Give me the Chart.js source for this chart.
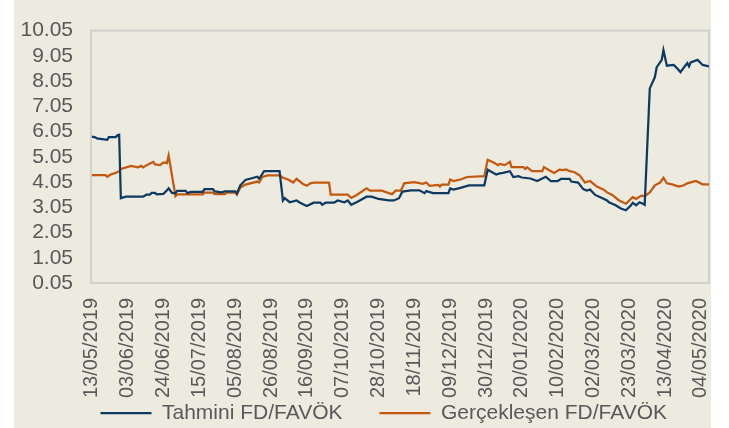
<!DOCTYPE html>
<html>
<head>
<meta charset="utf-8">
<script src="https://cdn.jsdelivr.net/npm/chart.js@4.4.1/dist/chart.umd.min.js"></script>
<style>
  html, body { margin: 0; padding: 0; background: #fff; }
  #wrap { position: absolute; left: 14px; top: 0; width: 697px; height: 428px; background: #EDEAE0; overflow: hidden; }
  canvas { display: block; }
</style>
</head>
<body>
<div id="wrap"><canvas id="fdChart" width="697" height="469"></canvas></div>
<script>
// day offsets from 13/05/2019
const tahminiDays = [0,2,3,9,10,14,15,16,17,20,30,32,34,35,37,38,42,44,45,47,49,50,55,56,58,65,66,71,72,76,78,84,85,87,90,97,98,101,110,112,113,116,120,122,126,130,134,135,137,142,144,148,150,152,156,161,164,168,174,177,180,182,187,192,195,196,200,209,210,212,216,221,230,232,237,239,241,245,247,250,252,257,261,266,269,273,275,280,281,285,288,290,292,295,298,302,303,307,310,313,316,317,319,321,323,324,327,330,331,334,335,337,341,343,345,347,349,350,351,355,358,362];
const tahminiValues = [5.85,5.82,5.78,5.72,5.83,5.83,5.9,5.92,3.41,3.47,3.47,3.55,3.55,3.62,3.62,3.56,3.58,3.72,3.8,3.62,3.6,3.7,3.7,3.61,3.66,3.66,3.77,3.77,3.68,3.64,3.68,3.68,3.6,3.92,4.13,4.26,4.18,4.48,4.48,3.32,3.41,3.25,3.32,3.23,3.1,3.23,3.23,3.15,3.23,3.23,3.32,3.25,3.32,3.15,3.28,3.47,3.47,3.38,3.32,3.32,3.41,3.67,3.72,3.72,3.61,3.69,3.61,3.61,3.8,3.75,3.82,3.92,3.92,4.54,4.35,4.39,4.41,4.48,4.25,4.28,4.23,4.19,4.09,4.26,4.09,4.09,4.18,4.18,4.07,4.03,3.77,3.71,3.75,3.54,3.45,3.32,3.25,3.13,3.0,2.93,3.13,3.23,3.13,3.25,3.19,3.15,7.76,8.21,8.59,8.89,9.28,8.66,8.69,8.56,8.4,8.59,8.76,8.63,8.79,8.89,8.69,8.63];

const gercekDays = [0,8,9,11,14,16,17,23,27,29,30,33,36,37,40,42,44,45,49,50,56,65,66,71,72,78,79,84,85,87,90,97,98,100,103,110,112,115,118,120,124,126,128,130,139,140,150,152,155,161,163,170,174,176,178,181,182,183,189,194,196,198,203,204,205,209,210,212,216,220,230,232,236,238,239,242,245,246,253,254,255,258,264,265,268,271,274,276,278,280,283,286,289,292,296,300,302,305,309,313,317,319,322,324,327,330,333,335,337,340,344,347,349,354,358,362];
const gercekValues = [4.32,4.32,4.26,4.35,4.41,4.48,4.57,4.69,4.63,4.69,4.63,4.75,4.85,4.75,4.72,4.83,4.8,5.1,3.49,3.56,3.56,3.56,3.63,3.63,3.57,3.57,3.63,3.63,3.55,3.83,3.95,4.07,4.03,4.25,4.31,4.31,4.22,4.15,4.03,4.18,3.96,3.9,4.0,4.03,4.03,3.55,3.55,3.42,3.53,3.8,3.71,3.71,3.61,3.57,3.71,3.71,3.83,4.0,4.05,3.98,4.03,3.9,3.94,3.87,3.95,3.95,4.15,4.09,4.15,4.25,4.28,4.93,4.8,4.72,4.77,4.72,4.85,4.64,4.64,4.57,4.64,4.48,4.48,4.64,4.52,4.41,4.54,4.52,4.55,4.48,4.44,4.31,4.03,4.09,3.87,3.75,3.64,3.54,3.32,3.19,3.45,3.38,3.51,3.49,3.64,3.92,4.03,4.22,4.0,3.96,3.87,3.92,4.0,4.09,3.96,3.96];

const tickDays = [0,21,42,63,84,105,126,147,168,189,210,231,252,273,294,315,336,357];
const tickLabels = ['13/05/2019','03/06/2019','24/06/2019','15/07/2019','05/08/2019','26/08/2019','16/09/2019','07/10/2019','28/10/2019','18/11/2019','09/12/2019','30/12/2019','20/01/2020','10/02/2020','02/03/2020','23/03/2020','13/04/2020','04/05/2020'];
const yTicks = [0.05,1.05,2.05,3.05,4.05,5.05,6.05,7.05,8.05,9.05,10.05];

const textColor = '#595959';
Chart.defaults.font.family = "'Liberation Sans', Arial, sans-serif";

// grey frame round the plot area
const frame = {
    id: 'frame',
    beforeDatasetsDraw(chart) {
        const a = chart.chartArea;
        const ctx = chart.ctx;
        ctx.save();
        ctx.strokeStyle = '#D2D1CD';
        ctx.lineWidth = 2;
        ctx.strokeRect(a.left, a.top, a.right - a.left, a.bottom - a.top);
        ctx.restore();
    }
};

// pull the legend up under the date labels
const legendShift = {
    id: 'legendShift',
    beforeDraw(chart) {
        const lg = chart.legend;
        if (!lg) return;
        const h = lg.bottom - lg.top;
        lg.top = 365.5;
        lg.bottom = lg.top + h;
        lg.left -= 5;
        lg.right -= 5;
    }
};

const ctx = document.getElementById('fdChart').getContext('2d');
new Chart(ctx, {
    type: 'line',
    data: {
        datasets: [
            {
                label: 'Tahmini FD/FAVÖK',
                data: tahminiDays.map((d, i) => ({ x: d, y: tahminiValues[i] })),
                borderColor: '#0E3A62',
                borderWidth: 2.25,
                pointRadius: 0,
                tension: 0
            },
            {
                label: 'Gerçekleşen FD/FAVÖK',
                data: gercekDays.map((d, i) => ({ x: d, y: gercekValues[i] })),
                borderColor: '#C5580F',
                borderWidth: 2.25,
                pointRadius: 0,
                tension: 0
            }
        ]
    },
    options: {
        responsive: false,
        animation: false,
        devicePixelRatio: 1,
        layout: { padding: { top: 24, right: 2, left: 0, bottom: 0 } },
        plugins: {
            tooltip: { enabled: false },
            legend: {
                position: 'bottom',
                align: 'end',
                labels: {
                    usePointStyle: true,
                    pointStyle: 'line',
                    pointStyleWidth: 51,
                    padding: 37,
                    color: textColor,
                    font: { size: 21 }
                }
            }
        },
        scales: {
            x: {
                type: 'linear',
                min: -0.5,
                max: 361.7,
                grid: { display: false, drawTicks: false },
                border: { display: false },
                afterBuildTicks: s => { s.ticks = tickDays.map(v => ({ value: v })); },
                afterFit: s => {
                    s.height = s.chart.height - 283 - (s.chart.legend ? s.chart.legend.height : 0);
                    s.paddingLeft = 0;
                    s.paddingRight = 0;
                },
                ticks: {
                    autoSkip: false,
                    minRotation: 90,
                    maxRotation: 90,
                    padding: 15,
                    color: textColor,
                    font: { size: 20 },
                    callback: (v, i) => tickLabels[i]
                }
            },
            y: {
                min: 0.05,
                max: 10.05,
                grid: { display: false, drawTicks: false },
                border: { display: false },
                afterBuildTicks: s => { s.ticks = yTicks.map(v => ({ value: v })); },
                afterFit: s => { s.width = 77; },
                ticks: {
                    autoSkip: false,
                    padding: 18,
                    color: textColor,
                    font: { size: 21 },
                    callback: v => v.toFixed(2)
                }
            }
        }
    },
    plugins: [frame, legendShift]
});
</script>
</body>
</html>
